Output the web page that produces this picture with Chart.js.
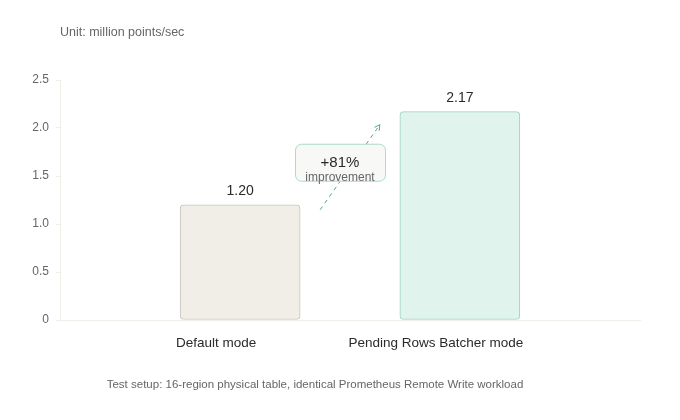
<!DOCTYPE html>
<html>
<head>
<meta charset="utf-8">
<script src="https://cdn.jsdelivr.net/npm/chart.js@4"></script>
<style>
  html, body { margin: 0; padding: 0; background: #fff; }
  #wrap { width: 680px; height: 420px; }
</style>
</head>
<body>
<div id="wrap"><canvas id="chart" width="680" height="420"></canvas></div>
<script>
// --- Data ---
let categories = ["Default mode", "Pending Rows Batcher mode"];
let throughput = [1.20, 2.17];
let yTicks = [0, 0.5, 1.0, 1.5, 2.0, 2.5];
let unitText = "Unit: million points/sec";
let footerText = "Test setup: 16-region physical table, identical Prometheus Remote Write workload";
let improvementLabel = "improvement";

let fillColors = ["#f1eee7", "#e0f3ec"];
let borderColors = ["#c8c6bf", "#9dd5c1"];
let font = "'Liberation Sans', Helvetica, Arial, sans-serif";

// --- Extra drawing: value labels, improvement arrow, texts ---
let decorPlugin = {
  id: "decor",
  afterDatasetsDraw(chart) {
    let ctx = chart.ctx;
    let bars = chart.getDatasetMeta(0).data;
    ctx.save();

    // value labels above bars
    ctx.fillStyle = "#2a2a2a";
    ctx.font = "14px " + font;
    ctx.textAlign = "center";
    ctx.textBaseline = "bottom";
    bars.forEach((b, i) => {
      ctx.fillText(throughput[i].toFixed(2), b.x, b.y - 7);
    });

    // dashed arrow between the bars
    let a = bars[0], b = bars[1];
    let x1 = a.x + a.width / 2 + 20, y1 = a.y + 5;
    let x2 = b.x - b.width / 2 - 20, y2 = b.y + 13;
    ctx.strokeStyle = "#3fae8e";
    ctx.lineWidth = 1;
    ctx.setLineDash([4, 4]);
    ctx.beginPath();
    ctx.moveTo(x1, y1);
    ctx.lineTo(x2, y2);
    ctx.stroke();
    ctx.setLineDash([]);
    let ang = Math.atan2(y2 - y1, x2 - x1);
    ctx.beginPath();
    ctx.moveTo(x2 - 6 * Math.cos(ang - 0.5), y2 - 6 * Math.sin(ang - 0.5));
    ctx.lineTo(x2, y2);
    ctx.lineTo(x2 - 6 * Math.cos(ang + 0.5), y2 - 6 * Math.sin(ang + 0.5));
    ctx.stroke();

    // improvement box
    let cx = (x1 + x2) / 2 - 10, cy = (y1 + y2) / 2 - 5;
    let bw = 90, bh = 37;
    ctx.fillStyle = "#f8f8f6";
    ctx.strokeStyle = "#a9dcc9";
    ctx.beginPath();
    ctx.roundRect(cx - bw / 2 + 0.5, cy - bh / 2 + 0.5, bw, bh, 6);
    ctx.fill();
    ctx.stroke();

    let pct = Math.round((throughput[1] / throughput[0] - 1) * 100);
    ctx.fillStyle = "#2a2a2a";
    ctx.font = "15px " + font;
    ctx.textBaseline = "middle";
    ctx.fillText("+" + pct + "%", cx, cy + 1);
    ctx.fillStyle = "#666";
    ctx.font = "12px " + font;
    ctx.fillText(improvementLabel, cx, cy + 15);

    // unit and footer texts
    ctx.fillStyle = "#666";
    ctx.font = "12.5px " + font;
    ctx.textAlign = "left";
    ctx.fillText(unitText, chart.chartArea.left, 33);
    ctx.font = "11.5px " + font;
    ctx.textAlign = "center";
    ctx.fillText(footerText, 315, 385);

    ctx.restore();
  }
};

// --- Chart ---
new Chart(document.getElementById("chart"), {
  type: "bar",
  data: {
    datasets: [{
      data: categories.map((c, i) => ({ x: i, y: throughput[i] })),
      backgroundColor: fillColors,
      borderColor: borderColors,
      borderWidth: 1,
      borderRadius: 4,
      borderSkipped: false,
      barThickness: 120
    }]
  },
  options: {
    responsive: false,
    animation: false,
    layout: { padding: { top: 80, right: 40, left: 0, bottom: 0 } },
    plugins: {
      legend: { display: false },
      tooltip: { enabled: false }
    },
    scales: {
      x: {
        type: "linear",
        min: -0.82,
        max: 1.82,
        offset: false,
        afterFit: s => { s.height = 100; },
        afterBuildTicks: s => { s.ticks = categories.map((c, i) => ({ value: i })); },
        grid: { display: false, offset: false },
        border: { display: true, color: "#efeee9" },
        ticks: {
          padding: 7,
          labelOffset: -24,
          color: "#2a2a2a",
          font: { family: font, size: 13.5 },
          callback: v => categories[v]
        }
      },
      y: {
        min: 0,
        max: 2.5,
        afterFit: s => { s.width = 60; },
        afterBuildTicks: s => { s.ticks = yTicks.map(v => ({ value: v })); },
        grid: { drawOnChartArea: false, color: "#efeee9", tickLength: 4 },
        border: { display: true, color: "#efeee9" },
        ticks: {
          padding: 7,
          color: "#666",
          font: { family: font, size: 12 },
          callback: v => v === 0 ? "0" : v.toFixed(1)
        }
      }
    }
  },
  plugins: [decorPlugin]
});
</script>
</body>
</html>
